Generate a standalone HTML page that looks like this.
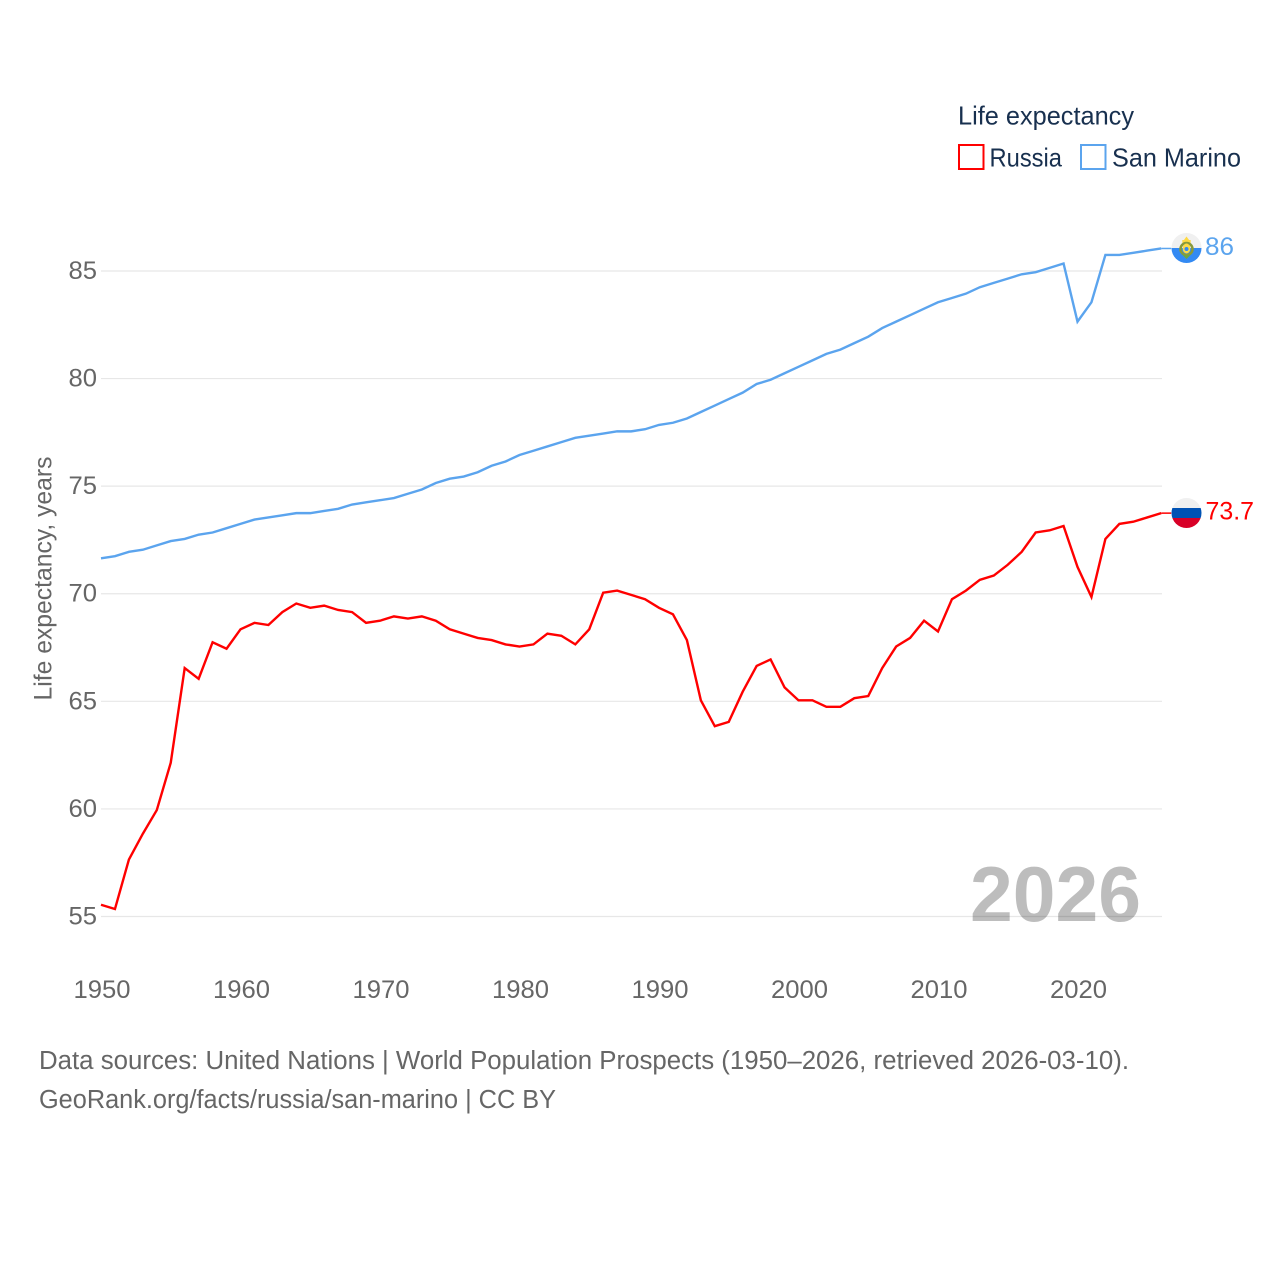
<!DOCTYPE html>
<html lang="en">
<head>
<meta charset="utf-8">
<title>Life expectancy: Russia and San Marino</title>
<style>
html,body{margin:0;padding:0;background:#fff;}
svg{display:block;font-family:"Liberation Sans",sans-serif;}
</style>
</head>
<body>
<svg id="chart" width="1280" height="1280" viewBox="0 0 1280 1280" xmlns="http://www.w3.org/2000/svg">
  <defs>
    <clipPath id="flag-clip-sm"><circle cx="1186.5" cy="248" r="15"/></clipPath>
    <clipPath id="flag-clip-ru"><circle cx="1186.5" cy="513" r="15"/></clipPath>
  </defs>
  <rect width="1280" height="1280" fill="#ffffff"/>
  <g id="grid"></g>
  <g id="yticks"></g>
  <g id="xticks"></g>
  <text transform="translate(51.5 700.5) rotate(-90)" font-size="25" fill="#666666" textLength="244" lengthAdjust="spacingAndGlyphs">Life expectancy, years</text>
  <text x="970" y="921" font-size="78" font-weight="700" fill="#000000" fill-opacity="0.26" textLength="171" lengthAdjust="spacingAndGlyphs">2026</text>
  <g transform="translate(-0.5 -1)">
    <path id="line-san-marino" fill="none" stroke="#5ba4ee" stroke-width="2.4" stroke-linejoin="miter"/>
    <path id="line-russia" fill="none" stroke="#ff0000" stroke-width="2.4" stroke-linejoin="miter"/>
    <line id="conn-san-marino" stroke="#5ba4ee" stroke-width="1.5"/>
    <line id="conn-russia" stroke="#ff0000" stroke-width="1.5"/>
  </g>

  <g clip-path="url(#flag-clip-sm)">
    <rect x="1171" y="233" width="31" height="15" fill="#f0f0f0"/>
    <rect x="1171" y="248" width="31" height="16" fill="#338af3"/>
    <path d="M1186.5 236.5 l2.6 3.5 h1.6 v3 h-8.4 v-3 h1.6 z" fill="#ffda44"/>
    <circle cx="1186.5" cy="249" r="6" fill="none" stroke="#8a9a3a" stroke-width="2.6"/>
    <ellipse cx="1186.5" cy="248.5" rx="3.8" ry="5" fill="#ffda44"/>
    <circle cx="1186.5" cy="249" r="2" fill="#338af3"/>
    <path d="M1181.5 254 l5 5 l5 -5 l-5 1.5 z" fill="#6da544"/>
  </g>
  <g clip-path="url(#flag-clip-ru)">
    <rect x="1171" y="498" width="31" height="10" fill="#f0f0f0"/>
    <rect x="1171" y="508" width="31" height="10" fill="#0052b4"/>
    <rect x="1171" y="518" width="31" height="11" fill="#d80027"/>
  </g>
  <text id="end-label-san-marino" x="1205" y="255" font-size="25" fill="#5ba4ee" textLength="29" lengthAdjust="spacingAndGlyphs"></text>
  <text id="end-label-russia" x="1205.5" y="519.5" font-size="25" fill="#ff0000" textLength="48.5" lengthAdjust="spacingAndGlyphs"></text>

  <g>
    <text x="958" y="124.5" font-size="26" fill="#18304f" textLength="176" lengthAdjust="spacingAndGlyphs">Life expectancy</text>
    <rect x="959" y="145" width="24.5" height="24" fill="#ffffff" stroke="#ff0000" stroke-width="2"/>
    <text x="989.5" y="166.5" font-size="26" fill="#18304f" textLength="72.5" lengthAdjust="spacingAndGlyphs">Russia</text>
    <rect x="1081" y="145" width="24.5" height="24" fill="#ffffff" stroke="#5ba4ee" stroke-width="2"/>
    <text x="1112" y="166.5" font-size="26" fill="#18304f" textLength="129" lengthAdjust="spacingAndGlyphs">San Marino</text>
  </g>

  <text x="39" y="1069" font-size="25.5" fill="#666666" textLength="1090" lengthAdjust="spacingAndGlyphs">Data sources: United Nations | World Population Prospects (1950–2026, retrieved 2026-03-10).</text>
  <text x="39" y="1108" font-size="25.5" fill="#666666" textLength="517" lengthAdjust="spacingAndGlyphs">GeoRank.org/facts/russia/san-marino | CC BY</text>
</svg>
<script>
const startYear = 1950;
const russiaValues = [55.5,55.3,57.6,58.8,59.9,62.1,66.5,66.0,67.7,67.4,68.3,68.6,68.5,69.1,69.5,69.3,69.4,69.2,69.1,68.6,68.7,68.9,68.8,68.9,68.7,68.3,68.1,67.9,67.8,67.6,67.5,67.6,68.1,68.0,67.6,68.3,70.0,70.1,69.9,69.7,69.3,69.0,67.8,65.0,63.8,64.0,65.4,66.6,66.9,65.6,65.0,65.0,64.7,64.7,65.1,65.2,66.5,67.5,67.9,68.7,68.2,69.7,70.1,70.6,70.8,71.3,71.9,72.8,72.9,73.1,71.2,69.8,72.5,73.2,73.3,73.5,73.7];
const sanMarinoValues = [71.6,71.7,71.9,72.0,72.2,72.4,72.5,72.7,72.8,73.0,73.2,73.4,73.5,73.6,73.7,73.7,73.8,73.9,74.1,74.2,74.3,74.4,74.6,74.8,75.1,75.3,75.4,75.6,75.9,76.1,76.4,76.6,76.8,77.0,77.2,77.3,77.4,77.5,77.5,77.6,77.8,77.9,78.1,78.4,78.7,79.0,79.3,79.7,79.9,80.2,80.5,80.8,81.1,81.3,81.6,81.9,82.3,82.6,82.9,83.2,83.5,83.7,83.9,84.2,84.4,84.6,84.8,84.9,85.1,85.3,82.6,83.5,85.7,85.7,85.8,85.9,86.0];
const yTickLabels = [55,60,65,70,75,80,85];
const xTickLabels = [1950,1960,1970,1980,1990,2000,2010,2020];

const NS = 'http://www.w3.org/2000/svg';
function xScale(year){ return 101.5 + (year - 1950) * 13.95; }
function yScale(v){ return 916.5 - (v - 55) * 21.517; }
function linePath(values){
  return values.map(function(v,i){
    return (i ? 'L' : 'M') + xScale(startYear + i).toFixed(2) + ' ' + yScale(v).toFixed(2);
  }).join(' ');
}

const gridGroup = document.getElementById('grid');
const yGroup = document.getElementById('yticks');
const xGroup = document.getElementById('xticks');

yTickLabels.forEach(function(t){
  const g = document.createElementNS(NS,'line');
  
  
  g.setAttribute('x1', 101);
  g.setAttribute('x2', 1162);
  g.setAttribute('y1', yScale(t));
  g.setAttribute('y2', yScale(t));
  g.setAttribute('stroke', '#e7e7e7');
  g.setAttribute('stroke-width', '1.2');
  gridGroup.appendChild(g);

  const l = document.createElementNS(NS,'text');
  
  
  l.setAttribute('x', 97);
  l.setAttribute('y', yScale(t) + 8);
  l.setAttribute('text-anchor', 'end');
  l.setAttribute('font-size', '25');
  l.setAttribute('fill', '#666666');
  l.setAttribute('textLength', '28.5');
  l.setAttribute('lengthAdjust', 'spacingAndGlyphs');
  l.textContent = t;
  yGroup.appendChild(l);
});

xTickLabels.forEach(function(t){
  const l = document.createElementNS(NS,'text');
  
  
  l.setAttribute('x', xScale(t) + 0.5);
  l.setAttribute('y', 998);
  l.setAttribute('text-anchor', 'middle');
  l.setAttribute('font-size', '25');
  l.setAttribute('fill', '#666666');
  l.setAttribute('textLength', '57');
  l.setAttribute('lengthAdjust', 'spacingAndGlyphs');
  l.textContent = t;
  xGroup.appendChild(l);
});

document.getElementById('line-russia').setAttribute('d', linePath(russiaValues));
document.getElementById('line-san-marino').setAttribute('d', linePath(sanMarinoValues));

function setConnector(id, values){
  const last = values[values.length - 1];
  const c = document.getElementById(id);
  const px = xScale(startYear + values.length - 1);
  c.setAttribute('x1', px);
  c.setAttribute('x2', px + 10);
  c.setAttribute('y1', yScale(last));
  c.setAttribute('y2', yScale(last));
}
setConnector('conn-russia', russiaValues);
setConnector('conn-san-marino', sanMarinoValues);

document.getElementById('end-label-russia').textContent = russiaValues[russiaValues.length - 1].toFixed(1);
document.getElementById('end-label-san-marino').textContent = String(Math.round(sanMarinoValues[sanMarinoValues.length - 1]));
</script>
</body>
</html>
